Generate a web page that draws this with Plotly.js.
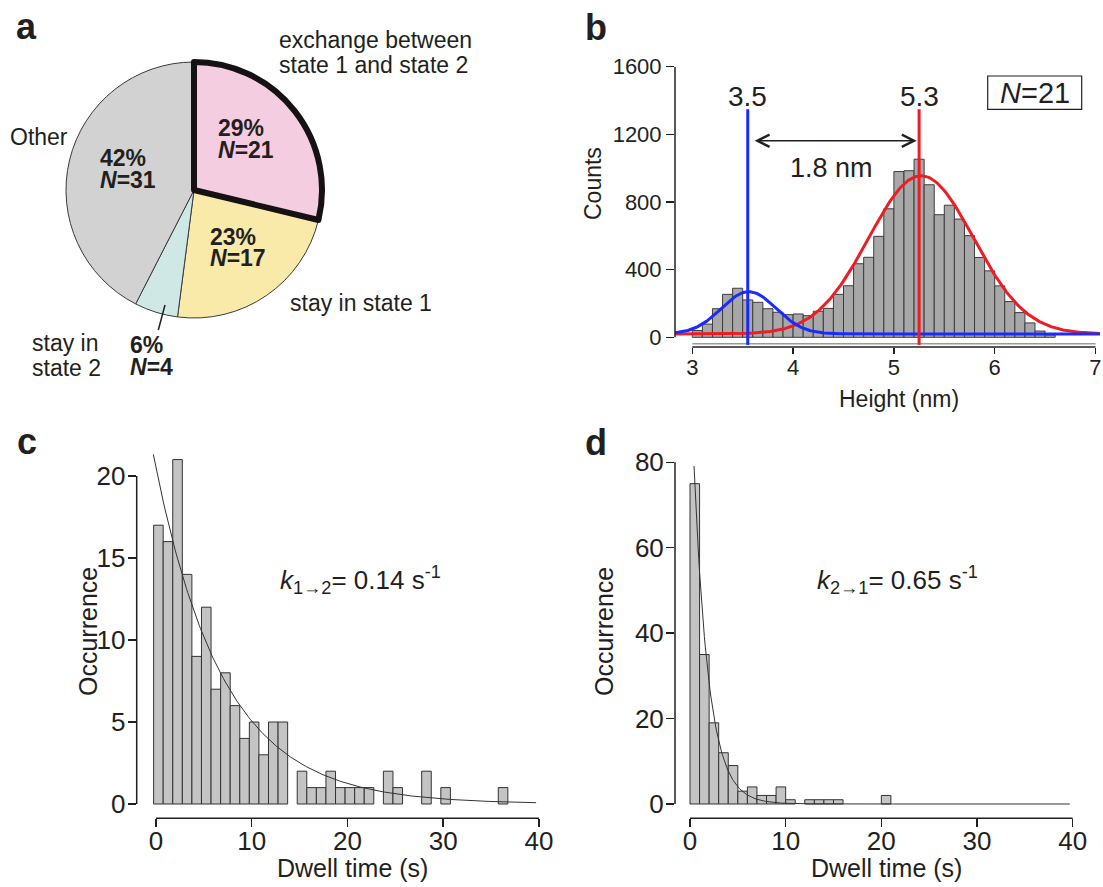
<!DOCTYPE html>
<html><head><meta charset="utf-8">
<script src="https://cdn.plot.ly/plotly-3.0.1.min.js"></script>
<style>html,body{margin:0;padding:0;background:#fff}</style>
</head><body><div id="chart" style="width:1103px;height:887px"></div>
<script>
// ---------------- Panel a : pie ----------------
const pieLabels = ['exchange between state 1 and state 2', 'stay in state 1', 'stay in state 2', 'Other'];
const pieLabelLines = [['exchange between', 'state 1 and state 2'], ['stay in state 1'], ['stay in', 'state 2'], ['Other']];
const pieN = [21, 17, 4, 31];
const piePct = [29, 23, 6, 42];
const pieColors = ['#f5cde0', '#f9eaaa', '#cfe8e6', '#d2d2d2'];

// ---------------- Panel b : height histogram ----------------
const bBinCenters = [3.05,3.15,3.25,3.35,3.45,3.55,3.65,3.75,3.85,3.95,4.05,4.15,4.25,4.35,4.45,4.55,4.65,4.75,4.85,4.95,5.05,5.15,5.25,5.35,5.45,5.55,5.65,5.75,5.85,5.95,6.05,6.15,6.25,6.35,6.45,6.55];
const bCounts = [40,78,169,254,290,221,207,169,148,134,138,128,154,171,254,305,435,473,597,760,980,985,1053,902,725,781,699,601,472,393,304,211,146,85,37,14];
const bBinWidth = 0.1;
const bFitBlue = {base: 20, amp: 250, mu: 3.56, sigma: 0.27};
const bFitRed = {base: 20, amp: 935, mu: 5.27, sigma: 0.52};
const bPeaks = [3.55, 5.25];
const bPeakLabels = ['3.5', '5.3'];
const bDiffLabel = '1.8 nm';
const bN = 21;
const bTickX = [3, 4, 5, 6, 7];
const bTickY = [0, 400, 800, 1200, 1600];

// ---------------- Panel c : dwell time state 1 ----------------
const cBinCenters = [0.25,1.25,2.25,3.25,4.25,5.25,6.25,7.25,8.25,9.25,10.25,11.25,12.25,13.25,14.25,15.25,16.25,17.25,18.25,19.25,20.25,21.25,22.25,23.25,24.25,25.25,26.25,27.25,28.25,29.25,30.25,31.25,32.25,33.25,34.25,35.25,36.25];
const cCounts = [17,16,21,14,9,12,7,8,6,4,5,3,5,5,0,2,1,1,2,1,1,1,1,0,2,1,0,0,2,0,1,0,0,0,0,0,1];
const cFit = {amp: 20.5, k: 0.14, tStart: -0.28, tEnd: 39.7};
const cTickX = [0, 10, 20, 30, 40];
const cTickY = [0, 5, 10, 15, 20];

// ---------------- Panel d : dwell time state 2 ----------------
const dBinCenters = [0.5,1.5,2.5,3.5,4.5,5.5,6.5,7.5,8.5,9.5,10.5,11.5,12.5,13.5,14.5,15.5,16.5,17.5,18.5,19.5,20.5];
const dCounts = [75,35,19,12,9,3,4,2,2,4,1,0,1,1,1,1,0,0,0,0,2];
const dFit = {amp: 104, k: 0.65, tStart: 0.42, tEnd: 39.7};
const dTickX = [0, 10, 20, 30, 40];
const dTickY = [0, 20, 40, 60, 80];

// ---------------- helpers ----------------
const W = 1103, H = 887;
const PX = v => v / W, PY = v => 1 - v / H;
const FONT = 'Liberation Sans, Arial, Helvetica, sans-serif';
const INK = '#231f20';

function nonzero(xs, ys) {
  const x = [], y = [];
  xs.forEach((v, i) => { if (ys[i] > 0) { x.push(v); y.push(ys[i]); } });
  return {x, y};
}
function gaussCurve(p, x0, x1, n) {
  const x = [], y = [];
  for (let i = 0; i <= n; i++) {
    const t = x0 + (x1 - x0) * i / n;
    x.push(t); y.push(p.base + p.amp * Math.exp(-Math.pow(t - p.mu, 2) / (2 * p.sigma * p.sigma)));
  }
  return {x, y};
}
function expCurve(p, n) {
  const x = [], y = [];
  for (let i = 0; i <= n; i++) {
    const t = p.tStart + (p.tEnd - p.tStart) * i / n;
    x.push(t); y.push(p.amp * Math.exp(-p.k * t));
  }
  return {x, y};
}

// ---------------- traces ----------------
const order = [1, 2, 3, 0];            // pink slice drawn last so its thick border stays on top
const total = pieN.reduce((a, b) => a + b, 0);
const pieTrace = {
  type: 'pie', sort: false, direction: 'clockwise',
  rotation: pieN[0] / total * 360,
  values: order.map(i => pieN[i]),
  labels: order.map(i => pieLabels[i]),
  marker: {
    colors: order.map(i => pieColors[i]),
    line: {color: order.map(i => i === 0 ? '#161213' : '#3a3a3a'), width: order.map(i => i === 0 ? 6 : 1)}
  },
  textinfo: 'none', hoverinfo: 'none', showlegend: false,
  domain: {x: [PX(66), PX(322)], y: [PY(318), PY(62)]}
};

const bBars = {type: 'bar', x: bBinCenters, y: bCounts, width: bBinWidth, xaxis: 'x2', yaxis: 'y2',
  marker: {color: '#a8a8a8', line: {color: '#3c3c3c', width: 1}}, hoverinfo: 'none'};
const redC = gaussCurve(bFitRed, 2.83, 7.045, 300);
const blueC = gaussCurve(bFitBlue, 2.83, 7.045, 300);
const bRed = {type: 'scatter', mode: 'lines', x: redC.x, y: redC.y, xaxis: 'x2', yaxis: 'y2', line: {color: '#ee1c24', width: 3}, hoverinfo: 'none'};
const bBlue = {type: 'scatter', mode: 'lines', x: blueC.x, y: blueC.y, xaxis: 'x2', yaxis: 'y2', line: {color: '#1a2bff', width: 3}, hoverinfo: 'none'};

const cNZ = nonzero(cBinCenters, cCounts);
const cBars = {type: 'bar', x: cNZ.x, y: cNZ.y, width: 1, xaxis: 'x3', yaxis: 'y3',
  marker: {color: '#c4c4c4', line: {color: '#333', width: 1}}, hoverinfo: 'none'};
const cC = expCurve(cFit, 300);
const cLine = {type: 'scatter', mode: 'lines', x: cC.x, y: cC.y, xaxis: 'x3', yaxis: 'y3', line: {color: '#333', width: 1}, hoverinfo: 'none'};

const dNZ = nonzero(dBinCenters, dCounts);
const dBars = {type: 'bar', x: dNZ.x, y: dNZ.y, width: 1, xaxis: 'x4', yaxis: 'y4',
  marker: {color: '#c4c4c4', line: {color: '#333', width: 1}}, hoverinfo: 'none'};
const dC = expCurve(dFit, 400);
const dLine = {type: 'scatter', mode: 'lines', x: dC.x, y: dC.y, xaxis: 'x4', yaxis: 'y4', line: {color: '#333', width: 1}, hoverinfo: 'none'};

// ---------------- axes ----------------
function axis(domain, range, tickvals, fontSize, ticklen, standoff, extra) {
  return Object.assign({
    domain, range, tickvals, ticktext: tickvals.map(String), tickmode: 'array',
    showline: false, showgrid: false, zeroline: false, ticks: 'outside', ticklen, tickwidth: 1.5,
    ticklabelstandoff: standoff,
    tickcolor: INK, tickfont: {family: FONT, size: fontSize, color: INK}, fixedrange: true
  }, extra || {});
}
const layout = {
  width: W, height: H, margin: {l: 0, r: 0, t: 0, b: 0},
  paper_bgcolor: '#fff', plot_bgcolor: 'rgba(0,0,0,0)', showlegend: false, bargap: 0,
  font: {family: FONT, color: INK},
  xaxis2: axis([PX(675), PX(1100)], [2.8284, 7.0447], bTickX, 22, 6, -5, {anchor: 'y2'}),
  yaxis2: axis([PY(347), PY(66.7)], [-57.3, 1600], bTickY, 22, 8, 0, {anchor: 'x2'}),
  xaxis3: axis([PX(136.7), PX(545)], [-2.016, 40.63], cTickX, 26, 8, -9, {anchor: 'y3'}),
  yaxis3: axis([PY(818.3), PY(450)], [-0.872, 21.585], cTickY, 26, 8, -3, {anchor: 'x3'}),
  xaxis4: axis([PX(675), PX(1080)], [-1.568, 40.77], dTickX, 26, 8, -9, {anchor: 'y4'}),
  yaxis4: axis([PY(818.3), PY(450)], [-3.35, 82.88], dTickY, 26, 8, -3, {anchor: 'x4'}),
  shapes: [], annotations: []
};

const S = layout.shapes, A = layout.annotations;
function line(o) { S.push(Object.assign({type: 'line', line: {color: INK, width: 1.5}}, o)); }
// axis lines (offset, ending at the extreme ticks)
line({xref: 'x2 domain', x0: 0, x1: 0, yref: 'y2', y0: bTickY[0], y1: bTickY[bTickY.length - 1]});
line({xref: 'x2', x0: bTickX[0], x1: bTickX[bTickX.length - 1], yref: 'y2 domain', y0: 0, y1: 0});
line({xref: 'x2', x0: bTickX[0], x1: bTickX[bTickX.length - 1], yref: 'y2', y0: -38, y1: -38, line: {color: '#9a9a9a', width: 1.5}});
line({xref: 'x3 domain', x0: 0, x1: 0, yref: 'y3', y0: cTickY[0], y1: cTickY[cTickY.length - 1]});
line({xref: 'x3', x0: cTickX[0], x1: cTickX[cTickX.length - 1], yref: 'y3 domain', y0: 0, y1: 0});
line({xref: 'x4 domain', x0: 0, x1: 0, yref: 'y4', y0: dTickY[0], y1: dTickY[dTickY.length - 1]});
line({xref: 'x4', x0: dTickX[0], x1: dTickX[dTickX.length - 1], yref: 'y4 domain', y0: 0, y1: 0});
// peak markers in b
const peakColors = ['#1a2bff', '#ee1c24'];
bPeaks.forEach((p, i) => {
  line({xref: 'x2', x0: p, x1: p, yref: 'y2', y0: -45, y1: 1348, line: {color: peakColors[i], width: 3}});
  A.push({xref: 'x2', yref: 'y2', x: p, y: 1422, text: bPeakLabels[i], showarrow: false,
    font: {family: FONT, size: 28, color: INK}, xanchor: 'center', yanchor: 'middle'});
});
// double arrow + label
A.push({xref: 'x2', yref: 'y2', x: 5.226, y: 1162, axref: 'x2', ayref: 'y2', ax: 3.589, ay: 1162, text: ' ',
  showarrow: true, arrowside: 'end+start', arrowhead: 5, startarrowhead: 5, arrowsize: 1.6, startarrowsize: 1.6,
  arrowwidth: 1.5, arrowcolor: INK, standoff: 0, startstandoff: 0});
A.push({xref: 'x2', yref: 'y2', x: 4.383, y: 999, text: bDiffLabel, showarrow: false,
  font: {family: FONT, size: 27, color: INK}, xanchor: 'center', yanchor: 'middle'});
// N box
S.push({type: 'rect', xref: 'paper', yref: 'paper', x0: PX(987.7), x1: PX(1081.7), y0: PY(109.3), y1: PY(76), line: {color: INK, width: 1.2}});
A.push({xref: 'paper', yref: 'paper', x: PX(1034.7), y: PY(93), text: '<i>N</i>=' + bN, showarrow: false,
  font: {family: FONT, size: 29, color: INK}, xanchor: 'center', yanchor: 'middle'});

// rate labels
A.push({xref: 'x3', yref: 'y3', x: 12.74, y: 13.66, text: '<i>k</i><sub>1→2</sub>= 0.14 s<sup>-1</sup>', showarrow: false,
  font: {family: FONT, size: 26, color: INK}, xanchor: 'left', yanchor: 'middle'});
A.push({xref: 'x4', yref: 'y4', x: 13.07, y: 52.4, text: '<i>k</i><sub>2→1</sub>= 0.65 s<sup>-1</sup>', showarrow: false,
  font: {family: FONT, size: 26, color: INK}, xanchor: 'left', yanchor: 'middle'});

// text helper in pixels
function T(text, x, y, size, opts) {
  A.push(Object.assign({xref: 'paper', yref: 'paper', x: PX(x), y: PY(y), text, showarrow: false,
    font: {family: FONT, size, color: INK}, xanchor: 'center', yanchor: 'middle'}, opts || {}));
}
// axis titles
T('Counts', 593, 184, 23, {textangle: -90});
T('Height (nm)', 898.5, 399, 23);
T('Occurrence', 88, 632, 25, {textangle: -90});
T('Dwell time (s)', 352, 868, 25);
T('Occurrence', 604, 632, 25, {textangle: -90});
T('Dwell time (s)', 886, 868, 25);
// panel letters
T('<b>a</b>', 26, 27, 36);
T('<b>b</b>', 596, 28, 36);
T('<b>c</b>', 27, 441, 36);
T('<b>d</b>', 596, 443, 36);
// pie value labels: [pctX, pctY, nX, nY]
const pieValPos = [[240.7, 128.3, 246, 150], [233.3, 236.7, 238.3, 258.3], [146.7, 345, 151.7, 366.7], [123.3, 158.3, 128.3, 180]];
pieN.forEach((n, i) => {
  const p = pieValPos[i];
  T('<b>' + piePct[i] + '%</b>', p[0], p[1], 23);
  T('<b><i>N</i>=' + n + '</b>', p[2], p[3], 23);
});
// pie category labels (left anchored, one annotation per line)
const pieCatPos = [[276.7, 40, 25], [288.3, 303.3, 25], [30, 343.3, 25], [8, 136.7, 25]];
pieLabelLines.forEach((lines, i) => {
  const p = pieCatPos[i];
  lines.forEach((ln, j) => T(ln, p[0], p[1] + j * p[2], 23, {xanchor: 'left'}));
});
// leader line for the small slice
S.push({type: 'line', xref: 'paper', yref: 'paper', x0: PX(165), y0: PY(305), x1: PX(158.3), y1: PY(330), line: {color: INK, width: 1.5}});

Plotly.newPlot('chart', [pieTrace, bBars, bRed, bBlue, cBars, cLine, dBars, dLine], layout, {staticPlot: true, displayModeBar: false});
</script></body></html>
